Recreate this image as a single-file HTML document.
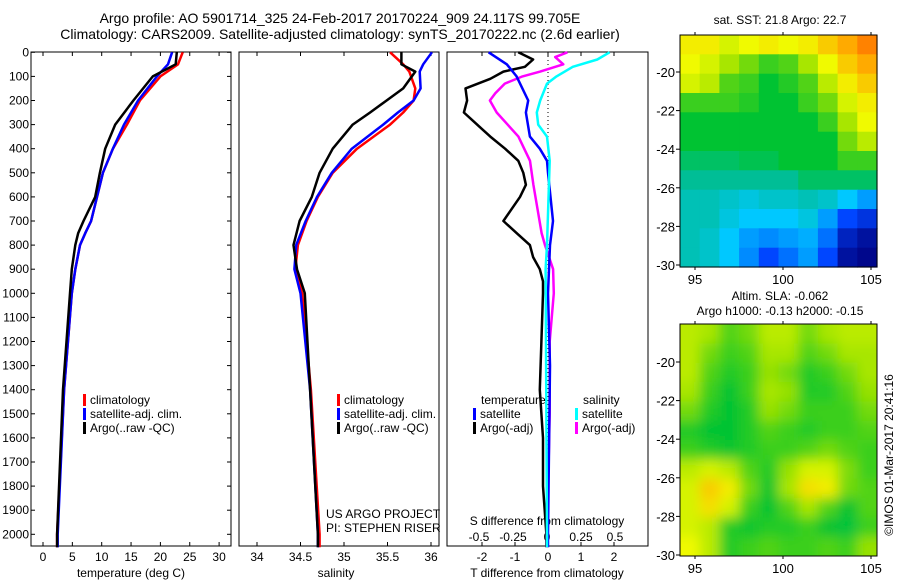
<!DOCTYPE html>
<html><head><meta charset="utf-8"><style>
body{margin:0;background:#fff;}
svg{display:block;font-family:"Liberation Sans",sans-serif;}
</style></head><body>
<svg id="c" width="900" height="580" viewBox="0 0 900 580" xmlns="http://www.w3.org/2000/svg">
<text x="340" y="23" font-size="14" text-anchor="middle">Argo profile: AO 5901714_325 24-Feb-2017 20170224_909 24.117S 99.705E</text>
<text x="340" y="39" font-size="14" text-anchor="middle">Climatology: CARS2009. Satellite-adjusted climatology: synTS_20170222.nc (2.6d earlier)</text>
<text x="780" y="24" font-size="12" text-anchor="middle">sat. SST: 21.8 Argo: 22.7</text>
<text x="780" y="300" font-size="12" text-anchor="middle">Altim. SLA: -0.062</text>
<text x="780" y="315" font-size="12" text-anchor="middle">Argo h1000: -0.13 h2000: -0.15</text>
<text transform="translate(893,455) rotate(-90)" font-size="12" text-anchor="middle">©IMOS 01-Mar-2017 20:41:16</text>
<g id="g"></g>
</svg>
<script>
// ---- data ----
const tempDepth=[0,50,100,200,300,400,500,600,700,750,800,900,1000,1400,2000,2054];
const tempArgo=[22.8,22.6,18.7,15.4,12.3,10.6,9.7,8.9,6.9,6.0,5.5,4.9,4.6,3.4,2.4,2.4];
const tempClim=[23.8,23.0,20.0,16.5,14.3,11.9,10.2,9.2,8.2,7.2,6.3,5.5,4.9,3.6,2.4,2.4];
const tempSat=[22.0,21.3,19.4,16.2,13.8,11.9,10.2,9.2,8.2,7.2,6.3,5.5,4.9,3.6,2.5,2.5];
const salDepth=[0,50,80,150,200,250,300,400,500,600,700,800,900,1000,1400,2000,2054];
const salArgo=[35.66,35.66,35.82,35.68,35.49,35.30,35.10,34.87,34.72,34.63,34.49,34.42,34.46,34.55,34.61,34.70,34.70];
const salClim=[35.53,35.68,35.75,35.82,35.80,35.68,35.53,35.15,34.87,34.70,34.57,34.47,34.44,34.52,34.62,34.72,34.72];
const salSat=[36.01,35.91,35.87,35.88,35.80,35.62,35.45,35.09,34.86,34.69,34.56,34.45,34.43,34.50,34.61,34.70,34.70];
const dtArgoDepth=[0,30,60,80,110,150,200,250,300,350,400,450,500,550,600,650,700,750,800,850,900,950,1000,1200,1400,1600,1800,2000,2054];
const dtArgo=[-0.9,-0.45,-0.7,-1.35,-1.75,-2.5,-2.45,-2.55,-2.15,-1.75,-1.3,-0.9,-0.75,-0.67,-0.85,-1.1,-1.35,-0.95,-0.55,-0.45,-0.25,-0.15,-0.15,-0.2,-0.25,-0.15,-0.15,-0.05,-0.05];
const dtSatDepth=[0,50,100,200,250,350,400,450,500,700,800,1000,1300,2000,2054];
const dtSat=[-1.8,-1.25,-0.95,-0.6,-0.67,-0.55,-0.25,-0.03,0,0.15,0.06,0,0.06,0,0];
const dsArgoDepth=[0,20,50,80,100,130,170,200,250,300,350,450,550,650,750,800,900,1000,1200,1500,2000,2054];
const dsArgo=[0.15,0.06,0.12,-0.05,-0.18,-0.31,-0.38,-0.42,-0.37,-0.29,-0.21,-0.125,-0.1,-0.07,-0.04,-0.015,0.045,0.05,0.02,0.02,0,0];
const dsSatDepth=[0,30,60,100,130,200,250,300,350,450,800,900,2000,2054];
const dsSat=[0.46,0.37,0.19,0.07,0,-0.05,-0.075,-0.065,0,0.02,0,-0.01,0,0];
const depthTicks=[0,100,200,300,400,500,600,700,800,900,1000,1100,1200,1300,1400,1500,1600,1700,1800,1900,2000];
const tempTicks=[0,5,10,15,20,25,30];
const salTicks=[34,34.5,35,35.5,36];
const salTickLabels=["34","34.5","35","35.5","36"];
const dtTicks=[-2,-1,0,1,2];
const dsTicks=[-0.5,-0.25,0,0.25,0.5];
const dsTickLabels=["-0.5","-0.25","0","0.25","0.5"];
const lonTicks=[95,100,105];
const sstLatTicks=[-20,-22,-24,-26,-28,-30];
const slaLatTicks=[-20,-22,-24,-26,-28,-30];
const sstGrid=[
[.8,.8,.75,.78,.8,.78,.8,.85,.9,.95],
[.78,.75,.7,.65,.6,.62,.7,.78,.85,.9],
[.75,.72,.62,.6,.55,.58,.62,.72,.8,.85],
[.6,.6,.6,.58,.55,.55,.6,.65,.75,.8],
[.55,.55,.55,.55,.55,.55,.55,.6,.7,.78],
[.55,.55,.55,.55,.55,.55,.55,.55,.65,.72],
[.5,.5,.5,.52,.52,.55,.55,.55,.6,.6],
[.45,.45,.45,.45,.45,.45,.5,.5,.5,.5],
[.42,.42,.4,.38,.4,.4,.42,.4,.35,.3],
[.42,.42,.38,.35,.35,.35,.38,.3,.2,.15],
[.42,.4,.35,.3,.28,.3,.32,.25,.1,.05],
[.42,.4,.35,.28,.2,.25,.3,.2,.05,.02]];
const slaGrid=[
[.72,.7,.62,.65,.72,.72,.65,.7,.72,.72],
[.72,.65,.6,.62,.7,.7,.62,.65,.7,.7],
[.72,.62,.58,.6,.68,.65,.58,.6,.65,.7],
[.7,.6,.55,.6,.7,.68,.58,.58,.62,.68],
[.65,.58,.55,.58,.68,.65,.6,.6,.6,.65],
[.58,.55,.55,.58,.62,.6,.58,.6,.6,.62],
[.6,.58,.56,.58,.6,.6,.62,.65,.62,.6],
[.72,.75,.72,.62,.58,.68,.75,.75,.66,.6],
[.75,.85,.8,.65,.56,.7,.82,.8,.65,.62],
[.75,.82,.75,.6,.55,.62,.7,.62,.55,.62],
[.75,.72,.58,.56,.58,.58,.6,.55,.54,.6],
[.78,.72,.58,.6,.62,.6,.6,.62,.6,.68]];

// ---- helpers ----
const NS="http://www.w3.org/2000/svg";
const G=document.getElementById('g');
function el(t,a,p){const e=document.createElementNS(NS,t);for(const k in a)e.setAttribute(k,a[k]);(p||G).appendChild(e);return e;}
function txt(x,y,s,anchor,size){const e=el('text',{x:x,y:y,'font-size':size||12,'text-anchor':anchor||'middle'});e.textContent=s;return e;}
const dY=d=>52.3+d*0.241;
const xT=v=>43+v*5.87;
const xS=v=>257+(v-34)*87;
const xDT=v=>548+v*33;
const xDS=v=>547+v*136;
function line(xs,ys,fx,color,name){
  const pts=xs.map((v,i)=>fx(v).toFixed(1)+','+dY(ys[i]).toFixed(1)).join(' ');
  const p=el('polyline',{points:pts,fill:'none',stroke:color,'stroke-width':2.5,'stroke-linejoin':'round'});
  
  
}
function panel(x0,x1,name){
  const r=el('rect',{x:x0,y:52,width:x1-x0,height:494,fill:'none',stroke:'#000','stroke-width':1});
  
  
}
panel(31,231,'temperature-panel');panel(239,439,'salinity-panel');panel(447,648,'difference-panel');
depthTicks.forEach(d=>{
  el('line',{x1:31,x2:35,y1:dY(d),y2:dY(d),stroke:'#000'});
  el('line',{x1:227,x2:231,y1:dY(d),y2:dY(d),stroke:'#000'});
  const t=txt(29,dY(d)+4,String(d),'end',12);
  
  
});
tempTicks.forEach(v=>{el('line',{x1:xT(v),x2:xT(v),y1:52,y2:56,stroke:'#000'});el('line',{x1:xT(v),x2:xT(v),y1:542,y2:546,stroke:'#000'});
  const t=txt(xT(v),561,String(v));});
salTicks.forEach((v,i)=>{el('line',{x1:xS(v),x2:xS(v),y1:52,y2:56,stroke:'#000'});el('line',{x1:xS(v),x2:xS(v),y1:542,y2:546,stroke:'#000'});
  const t=txt(xS(v),561,salTickLabels[i]);});
dtTicks.forEach(v=>{el('line',{x1:xDT(v),x2:xDT(v),y1:52,y2:56,stroke:'#000'});el('line',{x1:xDT(v),x2:xDT(v),y1:542,y2:546,stroke:'#000'});
  const t=txt(xDT(v),561,String(v));});
dsTicks.forEach((v,i)=>{const t=txt(xDS(v),541,dsTickLabels[i]);});
let t;
t=txt(131,577,'temperature (deg C)');
t=txt(336,577,'salinity');
t=txt(547,577,'T difference from climatology');
t=txt(547,525,'S difference from climatology');
el('line',{x1:548,x2:548,y1:52,y2:546,stroke:'#000','stroke-dasharray':'1,3'});
line(tempClim,tempDepth,xT,'#ff0000','temp-climatology-line');
line(tempSat,tempDepth,xT,'#0000ff','temp-satellite-line');
line(tempArgo,tempDepth,xT,'#000000','temp-argo-line');
line(salClim,salDepth,xS,'#ff0000','sal-climatology-line');
line(salSat,salDepth,xS,'#0000ff','sal-satellite-line');
line(salArgo,salDepth,xS,'#000000','sal-argo-line');
line(dtArgo,dtArgoDepth,xDT,'#000000','t-diff-argo-line');
line(dsArgo,dsArgoDepth,xDS,'#ff00ff','s-diff-argo-line');
line(dtSat,dtSatDepth,xDT,'#0000ff','t-diff-satellite-line');
line(dsSat,dsSatDepth,xDS,'#00ffff','s-diff-satellite-line');
function leg(x,y,c,s,name){el('rect',{x:x,y:y-10,width:3,height:12,fill:c});const e=txt(x+7,y,s,'start',12);}
leg(83,404,'#ff0000','climatology','legend-temp-climatology');
leg(83,418,'#0000ff','satellite-adj. clim.','legend-temp-satellite');
leg(83,432,'#000000','Argo(..raw -QC)','legend-temp-argo');
leg(337,404,'#ff0000','climatology','legend-sal-climatology');
leg(337,418,'#0000ff','satellite-adj. clim.','legend-sal-satellite');
leg(337,432,'#000000','Argo(..raw -QC)','legend-sal-argo');
t=txt(481,404,'temperature','start');
t=txt(583,404,'salinity','start');
leg(473,418,'#0000ff','satellite','legend-t-satellite');
leg(473,432,'#000000','Argo(-adj)','legend-t-argo');
leg(575,418,'#00ffff','satellite','legend-s-satellite');
leg(575,432,'#ff00ff','Argo(-adj)','legend-s-argo');
t=txt(326,518,'US ARGO PROJECT','start');
t=txt(326,532,'PI: STEPHEN RISER','start');
const stops=[[0,[0,0,127]],[0.2,[0,70,255]],[0.35,[0,200,255]],[0.45,[0,190,150]],[0.55,[0,195,50]],[0.68,[150,225,0]],[0.78,[240,250,0]],[0.9,[255,170,0]],[1,[255,90,0]]];
function cmap(v){for(let i=1;i<stops.length;i++){if(v<=stops[i][0]){const a=stops[i-1],b=stops[i],f=(v-a[0])/(b[0]-a[0]);return 'rgb('+a[1].map((c,k)=>Math.round(c+(b[1][k]-c)*f)).join(',')+')';}}return 'rgb(255,90,0)';}
const xLon=v=>695+(v-95)*17.6;
function map(grid,y0,y1,latTop,name,blur){
  const x0=680,x1=877;
  const grp=el('g',{});
  
  
  if(blur){el('clipPath',{id:'cp'+name},grp);el('rect',{x:x0,y:y0,width:x1-x0,height:y1-y0},grp.lastChild);grp.setAttribute('clip-path','url(#cp'+name+')');}
  const inner=el('g',blur?{filter:'url(#bl)'}:{},grp);
  const rows=grid.length,cols=grid[0].length,cw=(x1-x0)/cols,ch=(y1-y0)/rows;
  grid.forEach((row,r)=>row.forEach((v,c)=>{
    const cell=el('rect',{x:(x0+c*cw-(blur?cw:0)*(c==0?1:0)).toFixed(1),y:(y0+r*ch-(blur&&r==0?ch:0)).toFixed(1),width:(cw+0.6+(blur&&(c==0||c==cols-1)?cw:0)).toFixed(1),height:(ch+0.6+(blur&&(r==0||r==rows-1)?ch:0)).toFixed(1),fill:cmap(v)},inner);
    
    
  }));
  el('rect',{x:x0,y:y0,width:x1-x0,height:y1-y0,fill:'none',stroke:'#000'});
  lonTicks.forEach(v=>{el('line',{x1:xLon(v),x2:xLon(v),y1:y0-3,y2:y0,stroke:'#000'});el('line',{x1:xLon(v),x2:xLon(v),y1:y1,y2:y1+3,stroke:'#000'});
    const e=txt(xLon(v),y1+17,String(v),'middle',13);});
  return (lat)=>latTop+(-20-lat)*19.3;
}
const defs=el('defs',{});el('filter',{id:'bl',x:'-10%',y:'-10%',width:'120%',height:'120%'},defs);el('feGaussianBlur',{stdDeviation:6},defs.lastChild);
const ySST=map(sstGrid,35,267,72,'sst-map',false);
sstLatTicks.forEach(v=>{el('line',{x1:676,x2:680,y1:ySST(v),y2:ySST(v),stroke:'#000'});const e=txt(675,ySST(v)+5,String(v),'end',13);});
const ySLA=map(slaGrid,324,556,362,'sla-map',true);
slaLatTicks.forEach(v=>{el('line',{x1:676,x2:680,y1:ySLA(v),y2:ySLA(v),stroke:'#000'});const e=txt(675,ySLA(v)+5,String(v),'end',13);});
</script>
</body></html>
